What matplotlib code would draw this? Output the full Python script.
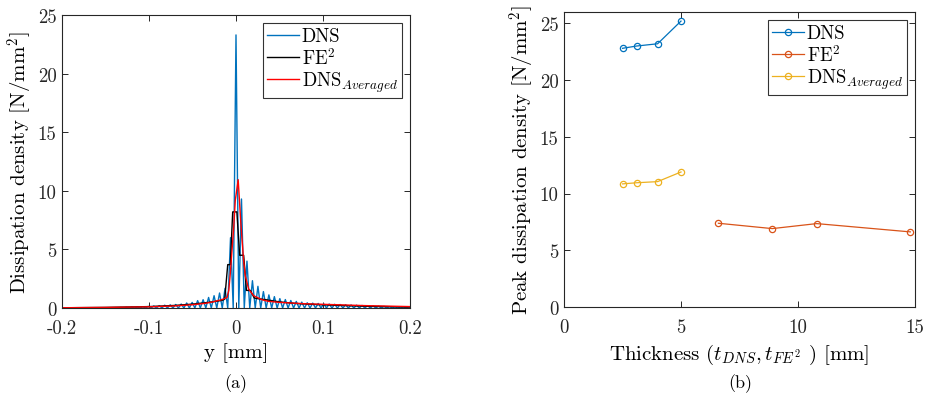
import numpy as np
import matplotlib
matplotlib.use("Agg")
import matplotlib.pyplot as plt

plt.rcParams['font.family'] = 'cmr10'
plt.rcParams['mathtext.fontset'] = 'cm'
plt.rcParams['axes.unicode_minus'] = False
plt.rcParams['axes.formatter.use_mathtext'] = True

# ---- panel (a): dissipation density along y ----
# DNS peaks (one per fibre period) and the zero troughs between them
dns_peak_x = [-0.1386, -0.1323, -0.1260, -0.1197, -0.1134, -0.1071, -0.1008, -0.0945,
              -0.0882, -0.0819, -0.0756, -0.0693, -0.0630, -0.0567, -0.0504, -0.0441,
              -0.0378, -0.0315, -0.0252, -0.0189, -0.0126, -0.0063, 0.0, 0.0063,
              0.0126, 0.0189, 0.0252, 0.0315, 0.0378, 0.0441, 0.0504, 0.0567,
              0.0630, 0.0693, 0.0756, 0.0819, 0.0882, 0.0945, 0.1008, 0.1071,
              0.1134, 0.1197, 0.1260, 0.1323, 0.1386, 0.1449, 0.1512, 0.1575,
              0.1638, 0.1701, 0.1764, 0.1827, 0.1890, 0.1953]
dns_peak_y = [0.03, 0.04, 0.05, 0.06, 0.08, 0.11, 0.14, 0.17,
              0.20, 0.24, 0.27, 0.30, 0.34, 0.43, 0.48, 0.63,
              0.71, 0.90, 1.05, 1.28, 1.68, 6.0, 23.3, 9.3,
              4.0, 2.33, 1.85, 1.40, 1.12, 0.97, 0.80, 0.72,
              0.64, 0.56, 0.50, 0.45, 0.42, 0.39, 0.36, 0.34,
              0.32, 0.30, 0.28, 0.26, 0.24, 0.22, 0.20, 0.18,
              0.16, 0.14, 0.12, 0.10, 0.08, 0.06]
dns_trough_x = [-0.1418, -0.1355, -0.1292, -0.1229, -0.1166, -0.1103, -0.1040, -0.0977,
                -0.0914, -0.0851, -0.0788, -0.0725, -0.0662, -0.0599, -0.0536, -0.0473,
                -0.0410, -0.0347, -0.0284, -0.0221, -0.0158, -0.0095, -0.0032, 0.0032,
                0.0095, 0.0158, 0.0221, 0.0284, 0.0347, 0.0410, 0.0473, 0.0536,
                0.0599, 0.0662, 0.0725, 0.0788, 0.0851, 0.0914, 0.0977, 0.1040,
                0.1103, 0.1166, 0.1229, 0.1292, 0.1355, 0.1418, 0.1481, 0.1544,
                0.1607, 0.1670, 0.1733, 0.1796, 0.1859, 0.1922, 0.1985]
dns_ends = [-0.2, 0.2]

fe2_x = [-0.2, -0.15, -0.1, -0.07, -0.05, -0.035, -0.025, -0.016, -0.013,
         -0.0095, -0.0065, -0.0038, 0.001, 0.0042, 0.0088, 0.012, 0.0165,
         0.021, 0.025, 0.035, 0.05, 0.07, 0.1, 0.15, 0.2]
fe2_y = [0.02, 0.05, 0.12, 0.22, 0.33, 0.45, 0.55, 0.65, 0.75,
         3.7, 3.7, 8.2, 8.2, 4.5, 4.5, 1.5, 1.5,
         0.85, 0.8, 0.7, 0.52, 0.38, 0.27, 0.15, 0.08]

avg_x = [-0.2, -0.15, -0.1, -0.07, -0.05, -0.035, -0.028, -0.016, -0.0103,
         -0.0083, -0.0066, -0.0046, -0.0026, -0.0008, 0.0025, 0.0055, 0.0088,
         0.0107, 0.0146, 0.0203, 0.03, 0.037, 0.05, 0.08, 0.115, 0.15, 0.2]
avg_y = [0.02, 0.05, 0.10, 0.18, 0.28, 0.40, 0.50, 0.72, 0.90,
         1.5, 2.9, 4.9, 6.9, 9.2, 10.95, 7.3, 4.0,
         2.75, 1.6, 1.05, 0.7, 0.57, 0.48, 0.36, 0.28, 0.2, 0.12]

# ---- panel (b): peak dissipation vs thickness ----
t_dns = [2.5, 3.1, 4.0, 5.0]
peak_dns = [22.8, 23.0, 23.2, 25.2]
peak_avg = [10.85, 10.95, 11.05, 11.9]
t_fe2 = [6.6, 8.9, 10.8, 14.8]
peak_fe2 = [7.38, 6.91, 7.35, 6.62]

blue = '#0072BD'
orange = '#D95319'
yellow = '#EDB120'

# interleave troughs and peaks for the DNS curve
mid_x = np.empty(len(dns_trough_x) + len(dns_peak_x))
mid_y = np.zeros_like(mid_x)
mid_x[0::2] = dns_trough_x
mid_x[1::2] = dns_peak_x
mid_y[1::2] = dns_peak_y
dns_x = np.concatenate([[dns_ends[0]], mid_x, [dns_ends[1]]])
dns_y = np.concatenate([[0.0], mid_y, [0.0]])

fig = plt.figure(figsize=(9.25, 4.02), dpi=100)
W, H = 925., 402.
ax1 = fig.add_axes([62/W, (H-309)/H, 348/W, 293/H])
ax2 = fig.add_axes([564/W, (H-308)/H, 351/W, 295/H])

def style(ax):
    ax.tick_params(direction='in', top=True, right=True, length=4,
                   width=0.7, labelsize=13.5, colors='#262626')
    ax.tick_params(axis='x', pad=8)
    ax.tick_params(axis='y', pad=4)
    for s in ax.spines.values():
        s.set_linewidth(0.8)
        s.set_color('#262626')

def legend(ax):
    leg = ax.legend(loc='upper right', fontsize=13.5, frameon=True, fancybox=False,
                    edgecolor='k', handlelength=1.7, borderpad=0.2, labelspacing=0.1,
                    handletextpad=0.15, borderaxespad=0.45)
    leg.get_frame().set_linewidth(0.8)

ax1.plot(dns_x, dns_y, color=blue, lw=1.0, label='DNS')
ax1.plot(fe2_x, fe2_y, color='k', lw=1.0, label=r'FE$^2$')
ax1.plot(avg_x, avg_y, color='r', lw=1.0, label=r'DNS$_{Averaged}$')
ax1.set_xlim(-0.2, 0.2)
ax1.set_ylim(0, 25)
ax1.set_xticks([-0.2, -0.1, 0, 0.1, 0.2])
ax1.set_xticklabels(['-0.2', '-0.1', '0', '0.1', '0.2'])
ax1.set_yticks([0, 5, 10, 15, 20, 25])
ax1.set_yticklabels(['0', '5', '10', '15', '20', '25'])
ax1.set_xlabel('y [mm]', fontsize=15, labelpad=4)
ax1.set_ylabel(r'Dissipation density [N/mm$^2$]', fontsize=15, labelpad=2)
style(ax1)
legend(ax1)

ax2.plot(t_dns, peak_dns, color=blue, lw=0.9, marker='o', ms=4.5, mfc='none', mew=0.9, label='DNS')
ax2.plot(t_fe2, peak_fe2, color=orange, lw=0.9, marker='o', ms=4.5, mfc='none', mew=0.9, label=r'FE$^2$')
ax2.plot(t_dns, peak_avg, color=yellow, lw=0.9, marker='o', ms=4.5, mfc='none', mew=0.9,
         label=r'DNS$_{Averaged}$')
ax2.set_xlim(0, 15)
ax2.set_ylim(0, 26)
ax2.set_xticks([0, 5, 10, 15])
ax2.set_xticklabels(['0', '5', '10', '15'])
ax2.set_yticks([0, 5, 10, 15, 20, 25])
ax2.set_yticklabels(['0', '5', '10', '15', '20', '25'])
ax2.set_xlabel(r'Thickness ($t_{DNS}, t_{FE^2}$ ) [mm]', fontsize=15, labelpad=4)
ax2.set_ylabel(r'Peak dissipation density [N/mm$^2$]', fontsize=15, labelpad=2)
style(ax2)
legend(ax2)

fig.text(236/W, 1 - 384/H, '(a)', ha='center', va='center', fontsize=13)
fig.text(740/W, 1 - 384/H, '(b)', ha='center', va='center', fontsize=13)

fig.savefig('out.png', dpi=100)
